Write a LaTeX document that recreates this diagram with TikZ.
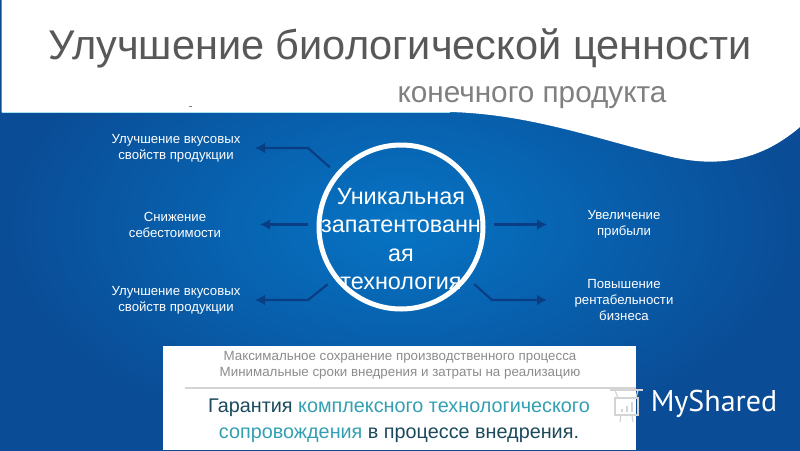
\documentclass[tikz,border=0pt]{standalone}
\usepackage{fontspec}
\setmainfont{Liberation Sans}
\newfontfamily\logofont{PT Sans}
\usetikzlibrary{arrows.meta}

\definecolor{bgedge}{RGB}{10,76,150}
\definecolor{bgmid}{RGB}{6,116,196}
\definecolor{arrowblue}{RGB}{10,62,132}
\definecolor{titlegray}{RGB}{88,88,88}
\definecolor{subgray}{RGB}{128,128,128}
\definecolor{notegray}{RGB}{140,140,140}
\definecolor{rulegray}{RGB}{212,212,212}
\definecolor{darkteal}{RGB}{28,74,92}
\definecolor{liteteal}{RGB}{50,160,178}
\definecolor{waveedge}{RGB}{170,225,240}

\tikzset{
  benefit/.style={text=white,align=center,minimum width=130pt,outer sep=14pt,
    inner sep=0pt,font=\fontsize{13.2}{16}\selectfont},
  techring/.style={circle,draw=white,line width=5pt,minimum size=164pt,
    inner sep=0pt,outer sep=11pt},
  linkarrow/.style={draw=arrowblue,line width=2.2pt,-{Latex[length=10pt,width=11pt]}},
  logoicon/.style={draw=rulegray,line width=1.2pt},
}

\begin{document}
\begin{tikzpicture}

  \useasboundingbox (0pt,0pt) rectangle (800pt,-450pt);

  \fill[inner color=bgmid,outer color=bgedge] (0pt,0pt) rectangle (800pt,-450pt);

  %% white head with the wave
  \fill[white] (1.5pt,2pt) -- (1.5pt,-112pt) -- (450pt,-112pt)
    .. controls (530pt,-114pt) and (600pt,-140pt) .. (660pt,-154pt)
    .. controls (700pt,-165pt) and (750pt,-170pt) .. (800pt,-127pt)
    -- (800pt,2pt) -- cycle;
  \draw[waveedge,line width=.7pt] (1.5pt,-112pt) -- (450pt,-112pt);
  \fill[subgray] (188.5pt,-105.5pt) rectangle (191.5pt,-107pt);

  \draw (400pt,-48pt)node[text=titlegray,font=\fontsize{41.5}{41.5}\selectfont](title)
    {Улучшение биологической ценности};
  \draw (532pt,-98pt)node[text=subgray,font=\fontsize{29.7}{29.7}\selectfont](subtitle)
    {конечного продукта};

  \node[techring] (tech) at (401pt,-227pt) {};
  \node[text=white,align=center,font=\fontsize{23.4}{28.5}\selectfont] (techname)
    at (401pt,-239pt) {Уникальная\\запатентованн\\ая\\технология};

  \node[benefit] (taste1) at (176pt,-148pt) {Улучшение вкусовых\\свойств продукции};
  \node[benefit,minimum width=142pt] (cost) at (175pt,-224.5pt) {Снижение\\себестоимости};
  \node[benefit] (taste2) at (176pt,-300pt) {Улучшение вкусовых\\свойств продукции};
  \node[benefit,minimum width=126pt] (profit) at (624pt,-224.5pt) {Увеличение\\прибыли};
  \node[benefit,minimum width=126pt] (margin) at (624pt,-300pt) {Повышение\\рентабельности\\бизнеса};

  \coordinate (kink1) at (308pt,-148pt);
  \coordinate (kink2) at (308pt,-300pt);
  \coordinate (kink3) at (492pt,-300pt);

  \draw[linkarrow] (tech.140) -- (kink1) -- (taste1.east);
  \draw[linkarrow] (tech.west |- cost.east) -- (cost.east);
  \draw[linkarrow] (tech.218) -- (kink2) -- (taste2.east);
  \draw[linkarrow] (tech.east |- profit.west) -- (profit.west);
  \draw[linkarrow] (tech.322) -- (kink3) -- (margin.west);

  %% note box
  \fill[white] (162.5pt,-346pt) rectangle (636pt,-450pt);
  \draw[rulegray,line width=2.5pt] (185pt,-388pt) -- (636pt,-388pt);
  \node[text=notegray,align=center,font=\fontsize{13.35}{15.5}\selectfont] (note)
    at (400pt,-365.5pt) {Максимальное сохранение производственного процесса\\
    Минимальные сроки внедрения и затраты на реализацию};
  \node[text=darkteal,align=center,font=\fontsize{19.8}{26}\selectfont] (promise)
    at (399pt,-421pt) {Гарантия \textcolor{liteteal}{комплексного технологического}\\
    \textcolor{liteteal}{сопровождения} в процессе внедрения.};

  %% logo
  \draw[logoicon] (615pt,-398pt) rectangle (638pt,-415pt);
  \draw[logoicon] (610pt,-390pt) -- (643pt,-390pt);
  \draw[logoicon] (618pt,-398pt) -- (615pt,-390pt);
  \draw[logoicon] (636pt,-398pt) -- (638pt,-390pt);
  \draw[logoicon] (621pt,-415pt) -- (620pt,-422pt);
  \draw[logoicon] (632pt,-415pt) -- (633pt,-422pt);
  \draw[logoicon,line width=2pt] (622pt,-412pt) -- (622pt,-409pt);
  \draw[logoicon,line width=2pt] (627pt,-412pt) -- (627pt,-406pt);
  \draw[logoicon,line width=2pt] (632pt,-412pt) -- (632pt,-402pt);
  \node[text=white,font=\logofont\fontsize{30}{30}\selectfont,inner sep=0pt] (logo)
    at (714pt,-404pt) {MyShared};

\end{tikzpicture}
\end{document}
